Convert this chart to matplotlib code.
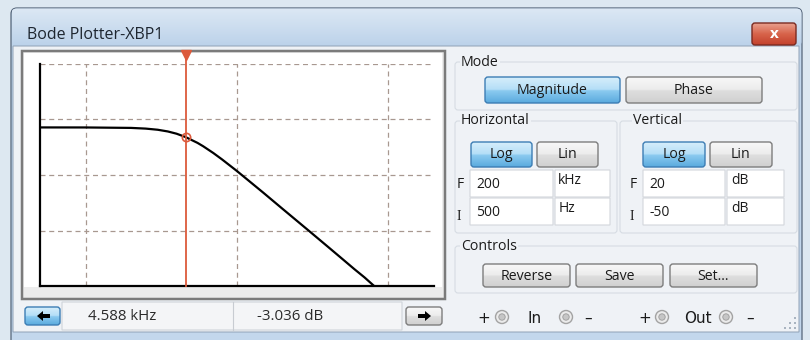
import matplotlib
matplotlib.use("Agg")
import matplotlib.pyplot as plt
import numpy as np
from matplotlib.patches import FancyBboxPatch, Rectangle, Circle, Polygon
from matplotlib.colors import LinearSegmentedColormap
from matplotlib.ticker import NullLocator

plt.rcParams["font.family"] = ["Open Sans", "DejaVu Sans"]

# Bode plotter settings
mode_buttons = ["Magnitude", "Phase"]
scale_buttons = ["Log", "Lin"]
h_final, h_final_unit = 200, "kHz"
h_init, h_init_unit = 500, "Hz"
v_final, v_final_unit = 20, "dB"
v_init, v_init_unit = -50, "dB"
control_buttons = ["Reverse", "Save", "Set..."]

# magnitude response
freq_hz = [500, 1000, 2000, 2500, 3000, 3500, 4000, 4588, 5500, 6000, 7000,
           8000, 10000, 12000, 15000, 20000, 30000, 40000, 50000, 60000,
           70000, 81000]
mag_db = [0.0, -0.01, -0.15, -0.37, -0.73, -1.27, -1.98, -3.04, -4.87, -5.94,
          -8.07, -10.1, -13.7, -16.8, -20.6, -25.6, -32.6, -37.6, -41.5,
          -44.7, -47.3, -50.0]

cursor_freq = 4588
cursor_db = -3.036

# grid lines on the screen
grid_freq = [1e3, 1e4, 1e5]
grid_db = [20, 2.5, -15, -32.5]

W, H = 810, 340
fig = plt.figure(figsize=(W / 100, H / 100), dpi=100)
ui = fig.add_axes([0, 0, 1, 1])
ui.set_axis_off()

TXT = "#1b1b1b"


def box(x, y, w, h, fc, ec="none", lw=1, r=0, z=1):
    p = FancyBboxPatch((x, y), w, h, boxstyle=f"round,pad=0,rounding_size={r}",
                       fc=fc, ec=ec, lw=lw, zorder=z)
    ui.add_patch(p)
    return p


def grad(x, y, w, h, stops, ec, r=3, lw=1, z=3):
    p = box(x, y, w, h, "none", ec, lw, r, z + 0.1)
    cmap = LinearSegmentedColormap.from_list("g", stops)
    im = ui.imshow(np.linspace(0, 1, 60).reshape(-1, 1), cmap=cmap,
                   extent=(x, x + w, y + h, y), aspect="auto", zorder=z,
                   interpolation="bilinear")
    im.set_clip_path(p)
    return p


BLUE = [(0, "#d6eefb"), (0.48, "#b4def7"), (0.52, "#8ccbf0"), (1, "#5aaade")]
GRAY = [(0, "#f8f8f8"), (0.48, "#ececec"), (0.52, "#dedede"), (1, "#d0d0d0")]


def button(x, y, w, h, label, active=False, size=10.2):
    if active:
        grad(x, y, w, h, BLUE, "#3c7db4", r=3)
    else:
        grad(x, y, w, h, GRAY, "#7d7d7d", r=3)
    ui.text(x + w / 2, y + h / 2 + 0.5, label, ha="center", va="center",
            fontsize=size, color=TXT, zorder=5)


# desktop and window frame
ui.add_patch(Rectangle((0, 0), W, H, fc="#dde8f1", ec="none", zorder=0))
box(11, 8, 791, 360, "#c3d7ec", "#56667a", 0.9, r=6, z=0.5)
grad(11.5, 8.5, 790, 38, [(0, "#dce8f4"), (1, "#bcd2ea")], "none", r=5, z=0.6)
ui.text(27, 35, "Bode Plotter-XBP1", ha="left", va="center", fontsize=11.5,
        color="#1e2630", zorder=5)

# close button
grad(752, 23, 44, 22, [(0, "#e9a08e"), (0.5, "#d7634a"), (1, "#c3412c")],
     "#7a2a20", r=3, z=3)
ui.text(774, 34, "x", ha="center", va="center", fontsize=11,
        fontweight="bold", color="white", zorder=5)

# client area
box(13, 46, 786, 286, "#eff2f6", "#8fa1b6", 0.7, z=1)

# sunken screen frame
box(22, 51, 423, 248, "#ececec", "#7b7b7b", 1.8, z=1.5)
box(24, 53, 418, 234, "white", "none", z=1.6)

# readout strip under the screen
box(62, 302, 340, 28, "#f4f5f7", "#cfd4da", 0.8, z=1.5)
ui.plot([233, 233], [302, 330], color="#c8ccd2", lw=0.8, zorder=1.7)
grad(25, 307, 35, 18, BLUE, "#3c7db4", r=3)
grad(406, 307, 36, 18, GRAY, "#7d7d7d", r=3)
ui.add_patch(Polygon([(37, 316), (43, 311), (43, 314), (50, 314), (50, 318),
                      (43, 318), (43, 321)], fc="black", zorder=5))
ui.add_patch(Polygon([(431, 316), (425, 311), (425, 314), (418, 314),
                      (418, 318), (425, 318), (425, 321)], fc="black", zorder=5))
ui.text(88, 316, f"{cursor_freq / 1000:.3f} kHz", ha="left", va="center",
        fontsize=10.8, color="#2a2a2a", zorder=5)
ui.text(257, 316, f"{cursor_db:.3f} dB", ha="left", va="center",
        fontsize=10.8, color="#2a2a2a", zorder=5)

# group boxes
GB = "#d6dce3"
box(455, 62, 342, 48, "none", GB, 0.8, r=3, z=1.2)
box(455, 121, 162, 112, "none", GB, 0.8, r=3, z=1.2)
box(620, 121, 177, 112, "none", GB, 0.8, r=3, z=1.2)
box(455, 246, 342, 47, "none", GB, 0.8, r=3, z=1.2)
for tx, ty, t in [(461, 62, "Mode"), (461, 121, "Horizontal"),
                  (633, 121, "Vertical"), (461, 246, "Controls")]:
    ui.text(tx, ty, t, ha="left", va="center", fontsize=10.2, color=TXT,
            zorder=5, bbox=dict(fc="#eff2f6", ec="none", pad=1))

button(485, 77, 135, 26, mode_buttons[0], active=True)
button(626, 77, 136, 26, mode_buttons[1])
button(471, 142, 61, 25, scale_buttons[0], active=True)
button(537, 142, 61, 25, scale_buttons[1])
button(643, 142, 62, 25, scale_buttons[0], active=True)
button(710, 142, 62, 25, scale_buttons[1])

# setting fields
fields = [
    (470, 555, 170, "F", h_final, h_final_unit),
    (470, 555, 198, "I", h_init, h_init_unit),
    (643, 727, 170, "F", v_final, v_final_unit),
    (643, 727, 198, "I", v_init, v_init_unit),
]
for vx, ux, fy, lab, val, unit in fields:
    box(vx, fy, ux - vx - 2, 27, "white", "#d3d7dc", 0.8, z=2)
    box(ux, fy, 57 if vx > 600 else 55, 27, "white", "#d3d7dc", 0.8, z=2)
    ui.text(vx - 13, fy + 15 + (3 if lab == "I" else 0), lab, ha="left",
            va="center", fontsize=10, color=TXT, zorder=5,
            family=["Liberation Serif", "DejaVu Serif"] if lab == "I" else None)
    ui.text(vx + 6, fy + 15, str(val), ha="left", va="center", fontsize=10,
            color=TXT, zorder=5)
    ui.text(ux + 3 if unit == "kHz" else ux + 4, fy + 10, unit, ha="left",
            va="center", fontsize=10, color=TXT, zorder=5)

button(483, 264, 87, 23, control_buttons[0])
button(576, 264, 87, 23, control_buttons[1])
button(670, 264, 87, 23, control_buttons[2])

# terminals
for cx in [502, 566, 662, 726]:
    ui.add_patch(Circle((cx, 317), 6.5, fc="#ebebeb", ec="#a3a3a3", lw=1, zorder=4))
    ui.add_patch(Circle((cx, 317), 3.2, fc="#c6c6c6", ec="#9c9c9c", lw=0.6, zorder=4.5))
for tx, t in [(484, "+"), (535, "In"), (588, "\u2013"), (645, "+"),
              (698, "Out"), (750, "\u2013")]:
    ui.text(tx, 317, t, ha="center", va="center_baseline", fontsize=11,
            color=TXT, zorder=5, family="DejaVu Sans")
for gx, gy in [(795, 318), (795, 323), (790, 323), (795, 328), (790, 328), (785, 328)]:
    ui.add_patch(Rectangle((gx - 1, gy - 1), 2, 2, fc="#a9b4c0", ec="none", zorder=4))

ui.set_xlim(0, W)
ui.set_ylim(H, 0)

# the Bode screen itself
x0, x1, y0, y1 = 40, 433.5, 64, 286
ax = fig.add_axes([x0 / W, 1 - y1 / H, (x1 - x0) / W, (y1 - y0) / H])
ax.set_facecolor("none")
ax.set_xscale("log")
ax.set_xlim(h_init, h_final * 1000)
ax.set_ylim(v_init, v_final)
ax.set_xticks(grid_freq)
ax.set_yticks(grid_db)
ax.xaxis.set_minor_locator(NullLocator())
ax.tick_params(length=0, labelleft=False, labelbottom=False)
ax.grid(True, color="#a89890", ls=(0, (4, 3)), lw=0.9)
for s in ["top", "right"]:
    ax.spines[s].set_visible(False)
for s in ["left", "bottom"]:
    ax.spines[s].set_color("black")
    ax.spines[s].set_linewidth(1.6)

ax.plot(freq_hz, mag_db, color="black", lw=1.6, zorder=3)

cur_col = "#dc5a3c"
top_extra = (y0 - 55) / (y1 - y0)
ax.axvline(cursor_freq, ymin=0, ymax=1 + top_extra, color=cur_col, lw=1.3,
           clip_on=False, zorder=4)
ax.plot([cursor_freq], [v_final + top_extra * (v_final - v_init)], marker="v",
        ms=7, color=cur_col, clip_on=False, zorder=5)
ax.plot([cursor_freq], [cursor_db], marker="o", ms=6, mfc="none", mec=cur_col,
        mew=1.2, zorder=5)

fig.savefig("out.png", dpi=100)
